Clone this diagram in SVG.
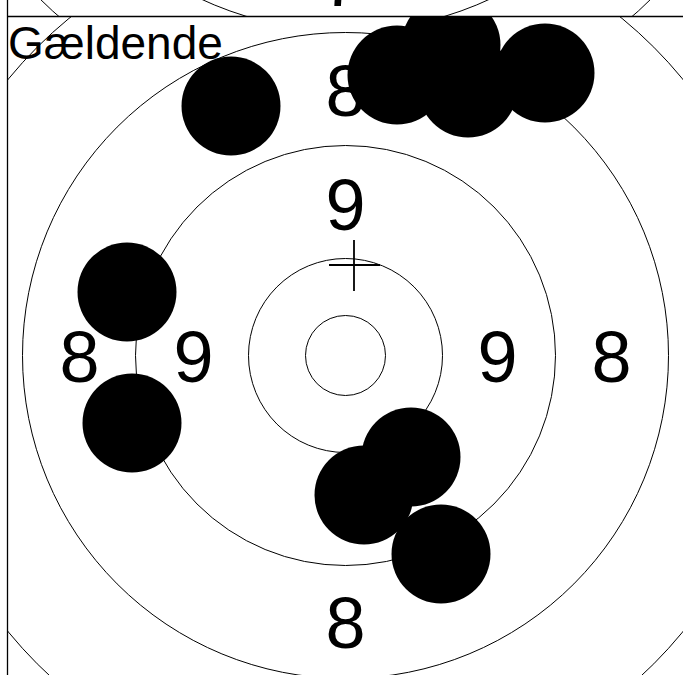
<svg xmlns="http://www.w3.org/2000/svg" width="683" height="675" viewBox="0 0 683 675">
  <style>
    .ring { fill: none; stroke: #000; stroke-width: 1; }
    .lbl { font-family: "Liberation Sans", Arial, sans-serif; font-size: 72px; fill: #000; text-anchor: middle; }
    .title { font-family: "Liberation Sans", Arial, sans-serif; font-size: 46px; fill: #000; }
    .shot { fill: #000; }
    .frame { stroke: #000; stroke-width: 1.3; fill: none; }
    .cross { stroke: #000; stroke-width: 1.8; }
  </style>
  <defs>
    <clipPath id="clipLower"><rect x="7.5" y="17" width="676" height="658"/></clipPath>
    <clipPath id="clipUpper"><rect x="7.5" y="0" width="676" height="16"/></clipPath>
  </defs>
  <rect width="683" height="675" fill="#fff"/>

  <g id="upper-panel" clip-path="url(#clipUpper)">
    <circle class="ring" cx="345.5" cy="-312" r="436"/>
    <circle class="ring" cx="345.5" cy="-312" r="343"/>
    <text class="lbl" x="341.5" y="6">7</text>
  </g>

  <g id="target" clip-path="url(#clipLower)">
    <g id="rings">
      <circle class="ring" cx="345.5" cy="355.5" r="40"/>
      <circle class="ring" cx="345.5" cy="355.5" r="97"/>
      <circle class="ring" cx="345.5" cy="355.5" r="210"/>
      <circle class="ring" cx="345.5" cy="355.5" r="323"/>
      <circle class="ring" cx="345.5" cy="355.5" r="436"/>
    </g>
    <g id="labels">
      <text class="lbl" x="345.5" y="229.5">9</text>
      <text class="lbl" x="193.5" y="381.5">9</text>
      <text class="lbl" x="497.5" y="381.5">9</text>
      <text class="lbl" x="345.5" y="115.5">8</text>
      <text class="lbl" x="79.5" y="381.5">8</text>
      <text class="lbl" x="611.5" y="381.5">8</text>
      <text class="lbl" x="345.5" y="647.5">8</text>
    </g>
    <g id="aim-cross">
      <line class="cross" x1="354" y1="240" x2="354" y2="291"/>
      <line class="cross" x1="329" y1="265" x2="380" y2="265"/>
    </g>
    <text id="title" class="title" x="8" y="59">Gældende</text>
    <g id="shots">
      <circle class="shot" cx="231" cy="106" r="49.5"/>
      <circle class="shot" cx="397" cy="75" r="49.5"/>
      <circle class="shot" cx="451" cy="45" r="49.5"/>
      <circle class="shot" cx="468" cy="88" r="49.5"/>
      <circle class="shot" cx="545" cy="73" r="49.5"/>
      <circle class="shot" cx="127" cy="292" r="49.5"/>
      <circle class="shot" cx="132" cy="423" r="49.5"/>
      <circle class="shot" cx="411" cy="457" r="49.5"/>
      <circle class="shot" cx="364" cy="495" r="49.5"/>
      <circle class="shot" cx="441" cy="554" r="49.5"/>
    </g>
  </g>

  <g id="frame">
    <line class="frame" x1="7.5" y1="0" x2="7.5" y2="675"/>
    <line class="frame" x1="7" y1="16.5" x2="683" y2="16.5"/>
  </g>
</svg>
